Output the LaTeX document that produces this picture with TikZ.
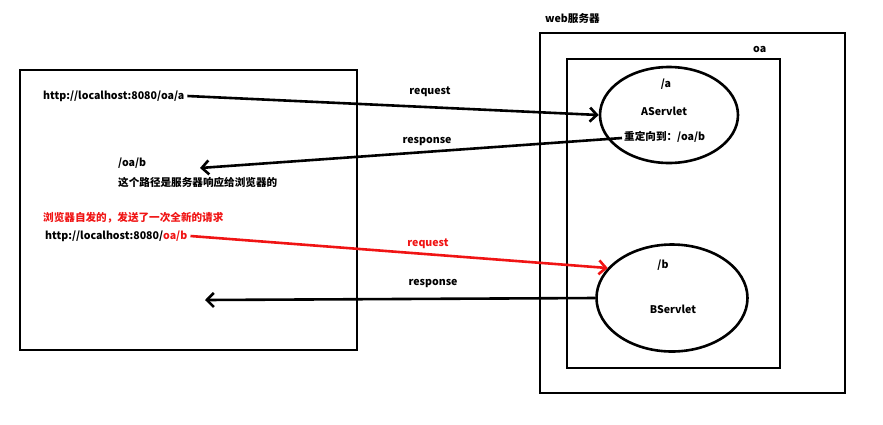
\documentclass[tikz,border=0pt]{standalone}
\usepackage{fontspec}
\setmainfont{Noto Sans CJK SC}
\usetikzlibrary{arrows.meta,shapes.geometric}
\definecolor{myred}{RGB}{240,20,20}
\begin{document}
\begin{tikzpicture}[x=1pt,y=-1pt,
  box/.style={draw, line width=2.6pt},
  conn/.style={line width=2.6pt, -{Straight Barb[length=7pt,width=14pt,line width=2.6pt]}},
  txt/.style={font=\fontsize{10.6}{12}\selectfont\bfseries, inner sep=0pt},
  lbl/.style={txt, anchor=west}]
\useasboundingbox (0,0) rectangle (883,424);
% boxes
\draw[box] (20,70) rectangle (357,350);
\draw[box] (540,33) rectangle (845,393);
\draw[box] (567,59) rectangle (780,368);
\node[lbl] (web) at (545,18) {web服务器};
\node[lbl] (oa) at (753,49) {oa};
% servlets
\node[draw, line width=2.6pt, ellipse, minimum width=138pt, minimum height=96pt, inner sep=0pt] (A) at (669,115) {};
\node[draw, line width=2.6pt, ellipse, minimum width=151pt, minimum height=107pt, inner sep=0pt] (B) at (672,298) {};
\node[txt] (pa) at (666,84) {/a};
\node[txt] (an) at (664,111) {AServlet};
\node[lbl] (redir) at (624,137) {重定向到：/oa/b};
\node[txt] (pb) at (663,265) {/b};
\node[txt] (bn) at (673,309) {BServlet};
% left texts
\node[lbl] (urla) at (43,96) {http://localhost:8080/oa/a};
\node[lbl] (oab) at (118,163) {/oa/b};
\node[lbl] (note) at (118,182) {这个路径是服务器响应给浏览器的};
\node[lbl, text=myred] (note2) at (43,218) {浏览器自发的，发送了一次全新的请求};
\node[lbl] (urlb) at (45,236) {http://localhost:8080/\textcolor{myred}{oa/b}};
% connectors
\draw[conn] (urla.east) ++(3,0) -- (A.west);
\coordinate (rsp1s) at (622,138);
\coordinate (rsp1e) at (200,168);
\draw[conn] (rsp1s) -- (rsp1e);
\draw[conn, myred] (urlb.east) ++(3,0) -- (B.155);
\coordinate (rsp2e) at (205,300);
\draw[conn] (B.west) -- (rsp2e);
% labels
\node[txt] (l1) at (430,92) {request};
\node[txt] (l2) at (427,142) {response};
\node[txt, text=myred] (l3) at (428,244) {request};
\node[txt] (l4) at (433,283) {response};
\end{tikzpicture}
\end{document}
